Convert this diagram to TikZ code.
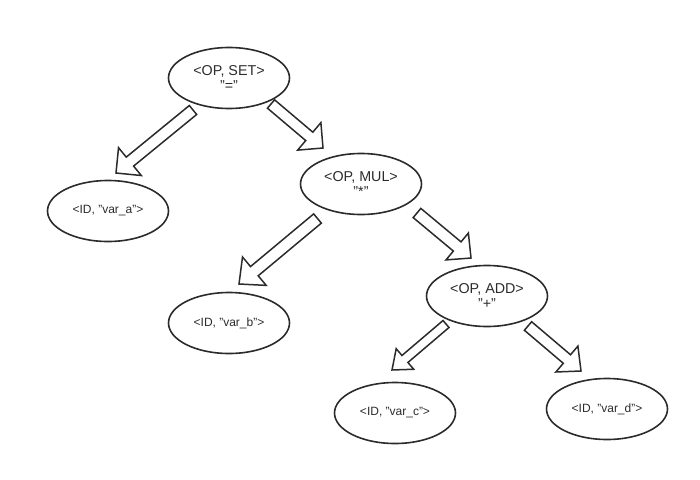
\documentclass[tikz,border=0pt]{standalone}
\usepackage{fontspec}
\setmainfont{Liberation Sans}
\usetikzlibrary{shapes.geometric,calc}
\definecolor{ink}{HTML}{2B2B2B}
\newcommand\dq{\symbol{34}}
\tikzset{
  tnode/.style={ellipse, draw=ink, line width=1.6pt, minimum width=121pt, minimum height=61pt, inner sep=0pt, text=ink},
  opnode/.style={tnode, align=center, font=\fontsize{14.3}{15.5}\selectfont},
  idnode/.style={tnode, font=\fontsize{12}{14}\selectfont},
  blk/.style={draw=ink, line width=1.5pt, line join=miter}
}
\newcommand\blkarrow[5]{%
  \coordinate (ah) at ($(#2)!#5pt!(#1)$);
  \draw[blk] ($(#1)!#3pt!90:(#2)$) -- ($(ah)!#3pt!90:(#2)$) -- ($(ah)!#4pt!90:(#2)$) -- (#2)
    -- ($(ah)!#4pt!-90:(#2)$) -- ($(ah)!#3pt!-90:(#2)$) -- ($(#1)!#3pt!-90:(#2)$) -- cycle;}
\begin{document}
\begin{tikzpicture}[x=1pt,y=-1pt]
\path[use as bounding box] (0,0) rectangle (700,479);
\node[opnode] (set) at (229,78) {<OP, SET>\\\dq=\dq};
\node[idnode] (vara) at (108,211) {<ID, \dq var\_a\dq>};
\node[opnode] (mul) at (361,184) {<OP, MUL>\\\dq*\dq};
\node[idnode] (varb) at (229,323) {<ID, \dq var\_b\dq>};
\node[opnode] (add) at (487,296) {<OP, ADD>\\\dq+\dq};
\node[idnode] (varc) at (395,413) {<ID, \dq var\_c\dq>};
\node[idnode] (vard) at (607,409) {<ID, \dq var\_d\dq>};
\coordinate (t1) at (193,110); \coordinate (p1) at (116,173);
\coordinate (t2) at (271,104); \coordinate (p2) at (323,148);
\coordinate (t3) at (317.5,218.5); \coordinate (p3) at (239,284);
\coordinate (t4) at (417,213); \coordinate (p4) at (471,258);
\coordinate (t5) at (446,324); \coordinate (p5) at (392,370);
\coordinate (t6) at (528,326); \coordinate (p6) at (581,371);
\blkarrow{t1}{p1}{5.8}{18}{18}
\blkarrow{t2}{p2}{5.5}{18}{18}
\blkarrow{t3}{p3}{6}{18.5}{20}
\blkarrow{t4}{p4}{6}{17.5}{18}
\blkarrow{t5}{p5}{4.6}{13.5}{17}
\blkarrow{t6}{p6}{5.6}{17}{18.5}
\end{tikzpicture}
\end{document}
